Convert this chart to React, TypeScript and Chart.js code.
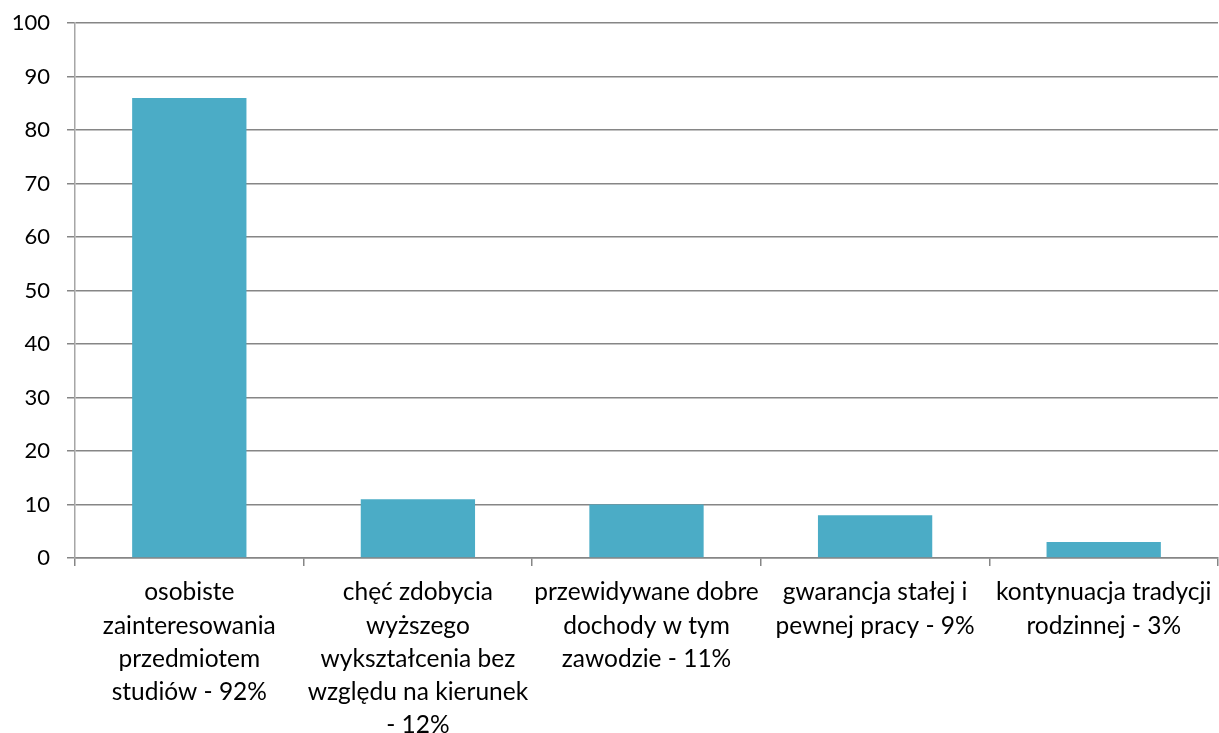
import React, { useEffect, useRef } from "react";
import { Chart, registerables } from "chart.js";

Chart.register(...registerables);

const categories: string[][] = [
  ["osobiste", "zainteresowania", "przedmiotem", "studiów - 92%"],
  ["chęć zdobycia", "wyższego", "wykształcenia bez", "względu na kierunek", "- 12%"],
  ["przewidywane dobre", "dochody w tym", "zawodzie - 11%"],
  ["gwarancja stałej i", "pewnej pracy - 9%"],
  ["kontynuacja tradycji", "rodzinnej - 3%"],
];
const values: number[] = [86, 11, 10, 8, 3];
const yMin = 0;
const yMax = 100;
const yStep = 10;

export default function App() {
  const ref = useRef<HTMLCanvasElement>(null);
  useEffect(() => {
    document.body.style.margin = "0";
    const chart = new Chart(ref.current!, {
      type: "bar",
      data: {
        labels: categories,
        datasets: [
          {
            data: values,
            backgroundColor: "#4BACC6",
            borderWidth: 0,
            categoryPercentage: 1,
            barPercentage: 0.5,
          },
        ],
      },
      options: {
        animation: false,
        responsive: false,
        layout: { padding: { top: 23, right: 1, left: 0, bottom: 0 } },
        plugins: { legend: { display: false }, tooltip: { enabled: false } },
        scales: {
          x: {
            grid: {
              drawOnChartArea: false,
              drawTicks: true,
              tickLength: 8,
              color: "#868686",
              lineWidth: 1.5,
            },
            border: { color: "#868686", width: 1.5 },
            ticks: {
              color: "#000",
              font: { family: "Lato", size: 24.5, lineHeight: 1.35 },
              maxRotation: 0,
              autoSkip: false,
              padding: 10,
            },
            afterFit: (s: any) => {
              s.height = 175;
              s.paddingLeft = 0;
              s.paddingRight = 0;
            },
          },
          y: {
            min: yMin,
            max: yMax,
            ticks: {
              stepSize: yStep,
              color: "#000",
              font: { family: "Lato", size: 22 },
              padding: 17,
            },
            grid: {
              color: "#868686",
              lineWidth: 1.5,
              tickLength: 8,
            },
            border: { color: "#a6a6a6", width: 1.5 },
            afterFit: (s: any) => {
              s.width = 75;
              s.paddingTop = 0;
              s.paddingBottom = 0;
            },
          },
        },
      },
    });
    return () => chart.destroy();
  }, []);
  return (
    <div style={{ position: "fixed", left: 0, top: 0, width: 1219, height: 733, background: "#fff" }}>
      <canvas ref={ref} width={1219} height={733} style={{ width: 1219, height: 733 }} />
    </div>
  );
}
